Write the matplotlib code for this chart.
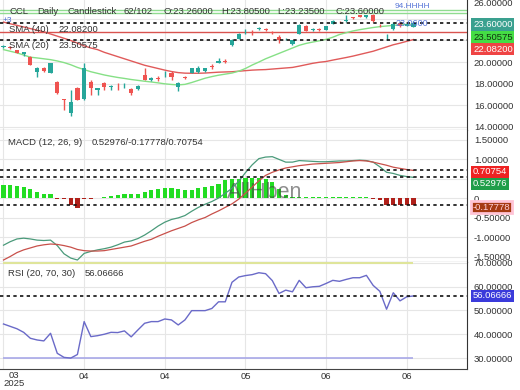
import matplotlib
matplotlib.use("Agg")
import matplotlib.pyplot as plt
import numpy as np

plt.rcParams['font.family'] = ['Liberation Sans', 'DejaVu Sans']

# --- data (62 visible daily bars) ---
opens = [21.40, 21.42, 21.10, 20.70, 20.49, 19.12, 19.42, 19.00, 18.19, 16.56,
         15.27, 17.57, 16.56, 18.19, 17.42, 18.10, 17.68, 17.70, 17.77, 17.48,
         17.48, 18.80, 18.38, 18.52, 18.78, 19.02, 17.67, 18.58, 19.02, 19.11,
         19.17, 19.62, 19.94, 20.06, 21.57, 22.18, 22.78, 22.82, 23.08, 23.10,
         22.75, 22.33, 22.09, 21.66, 22.64, 23.32, 23.00, 23.02, 23.01, 23.56,
         23.74, 23.83, 24.14, 24.33, 24.18, 24.33, 23.43, 22.30, 23.10, 23.60,
         23.35, 23.26]
highs = [21.55, 21.50, 21.15, 20.95, 20.55, 19.57, 19.50, 19.90, 18.25, 16.60,
         17.42, 17.65, 19.88, 18.34, 17.62, 18.19, 17.88, 18.03, 18.03, 17.57,
         17.85, 19.42, 18.65, 18.71, 19.20, 19.20, 18.19, 18.71, 19.45, 19.63,
         19.48, 19.82, 20.34, 20.25, 22.10, 22.70, 23.10, 23.01, 23.25, 23.15,
         22.85, 22.49, 22.25, 22.08, 23.56, 23.40, 23.12, 23.12, 23.38, 23.87,
         23.80, 24.33, 24.22, 24.40, 24.38, 24.42, 23.56, 22.64, 23.72, 23.65,
         23.65, 23.805]
lows = [21.30, 21.25, 20.80, 20.55, 19.70, 18.65, 19.10, 18.98, 17.05, 15.58,
        14.96, 16.45, 16.50, 16.96, 16.96, 17.42, 17.42, 17.42, 17.57, 16.96,
        17.42, 18.30, 18.28, 18.28, 18.59, 18.34, 17.27, 18.40, 19.00, 19.02,
        19.12, 19.32, 19.88, 19.88, 21.50, 22.10, 22.64, 22.49, 22.95, 22.90,
        22.60, 21.78, 22.05, 21.60, 22.60, 22.85, 22.90, 22.90, 22.95, 23.50,
        23.62, 23.72, 24.02, 24.15, 24.10, 23.72, 23.25, 22.03, 22.95, 23.25,
        23.30, 23.235]
closes = [21.45, 21.30, 20.85, 20.90, 19.72, 19.42, 19.15, 19.88, 17.11, 16.45,
          16.34, 16.50, 19.42, 17.57, 17.57, 17.67, 17.78, 17.65, 17.82, 17.11,
          17.79, 18.34, 18.49, 18.47, 18.84, 18.65, 18.10, 18.54, 19.42, 19.42,
          19.42, 19.52, 20.12, 20.01, 22.03, 22.64, 22.82, 22.78, 23.12, 22.95,
          22.72, 22.03, 22.18, 22.03, 23.41, 22.89, 23.03, 23.00, 23.32, 23.81,
          23.70, 23.88, 24.10, 24.18, 24.33, 23.81, 23.39, 22.36, 23.56, 23.30,
          23.55, 23.60]

sma20 = [21.15, 21.00, 20.85, 20.65, 20.45, 20.38, 20.30, 20.22, 20.10, 19.95,
         19.75, 19.50, 19.30, 19.10, 18.95, 18.80, 18.68, 18.57, 18.48, 18.38,
         18.30, 18.22, 18.15, 18.07, 17.98, 17.92, 17.88, 17.93, 18.10, 18.30,
         18.50, 18.65, 18.78, 18.88, 18.98, 19.15, 19.40, 19.72, 20.00, 20.30,
         20.55, 20.80, 21.05, 21.30, 21.55, 21.72, 21.85, 21.97, 22.10, 22.30,
         22.55, 22.72, 22.88, 23.00, 23.10, 23.20, 23.28, 23.34, 23.40, 23.45,
         23.48, 23.506]
sma40 = [23.70, 23.55, 23.40, 23.25, 23.10, 22.95, 22.80, 22.60, 22.40, 22.20,
         22.00, 21.75, 21.50, 21.30, 21.15, 20.90, 20.70, 20.50, 20.30, 20.10,
         19.90, 19.70, 19.55, 19.40, 19.25, 19.12, 19.02, 18.97, 18.96, 18.96,
         18.98, 19.02, 19.06, 19.08, 19.10, 19.15, 19.20, 19.25, 19.28, 19.30,
         19.35, 19.40, 19.45, 19.50, 19.62, 19.75, 19.88, 19.98, 20.05, 20.18,
         20.30, 20.42, 20.55, 20.70, 20.85, 21.00, 21.20, 21.40, 21.60, 21.75,
         21.92, 22.082]

macd = [-1.21, -1.12, -1.05, -1.03, -1.05, -1.08, -1.09, -1.08, -1.22, -1.43,
        -1.54, -1.59, -1.42, -1.37, -1.33, -1.30, -1.26, -1.20, -1.13, -1.10,
        -1.04, -0.95, -0.84, -0.72, -0.62, -0.55, -0.51, -0.45, -0.34, -0.24,
        -0.16, -0.09, 0.00, 0.12, 0.25, 0.43, 0.65, 0.85, 1.01, 1.05,
        1.06, 0.99, 0.92, 0.92, 0.96, 0.95, 0.94, 0.93, 0.93, 0.94,
        0.95, 0.95, 0.96, 0.97, 0.96, 0.92, 0.80, 0.66, 0.63, 0.58,
        0.55, 0.52976]
signal = [-1.59, -1.50, -1.40, -1.33, -1.28, -1.23, -1.20, -1.18, -1.19, -1.22,
          -1.26, -1.32, -1.35, -1.36, -1.36, -1.35, -1.32, -1.29, -1.26, -1.23,
          -1.17, -1.11, -1.06, -0.98, -0.91, -0.84, -0.78, -0.72, -0.63, -0.56,
          -0.50, -0.41, -0.33, -0.24, -0.15, -0.03, 0.12, 0.28, 0.44, 0.58,
          0.66, 0.72, 0.77, 0.80, 0.83, 0.85, 0.87, 0.88, 0.89, 0.90,
          0.91, 0.93, 0.95, 0.96, 0.95, 0.92, 0.88, 0.84, 0.79, 0.76,
          0.73, 0.70754]
hist = [0.33, 0.33, 0.31, 0.29, 0.22, 0.16, 0.10, 0.10, -0.02, -0.03,
        -0.18, -0.25, -0.03, -0.02, 0.00, 0.03, 0.06, 0.08, 0.09, 0.09,
        0.11, 0.16, 0.21, 0.23, 0.25, 0.25, 0.23, 0.21, 0.21, 0.26,
        0.28, 0.32, 0.35, 0.46, 0.50, 0.50, 0.52, 0.52, 0.52, 0.48,
        0.40, 0.22, 0.08, 0.03, 0.03, 0.03, 0.03, 0.03, 0.03, 0.03,
        0.03, 0.03, 0.03, 0.03, 0.03, -0.03, -0.04, -0.18, -0.18, -0.18,
        -0.18, -0.17778]

rsi = [44.3, 43.3, 42.3, 40.8, 38.3, 37.6, 37.2, 40.4, 32.0, 30.3,
       30.0, 31.5, 45.3, 39.0, 39.4, 40.0, 40.8, 40.7, 41.4, 38.9,
       41.8, 44.6, 45.3, 45.3, 46.4, 46.0, 43.9, 46.0, 49.9, 49.9,
       49.9, 50.8, 53.6, 53.6, 61.8, 64.0, 64.6, 65.0, 65.8, 65.4,
       62.5, 57.1, 58.5, 57.8, 62.6, 59.5, 59.9, 60.1, 61.3, 62.6,
       62.2, 63.0, 63.7, 63.7, 64.7, 60.5, 58.0, 50.5, 57.4, 54.0,
       55.7, 56.06666]

tick_pos = [0, 12, 24, 36, 48, 60]
tick_lab = ['', '04', '04', '05', '06', '06']

last_close = 23.60
last_sma20 = 23.50575
last_sma40 = 22.08200
level_red = 22.79
band_green = [24.50, 24.80]

idx = np.arange(len(closes))
o = np.array(opens)
c = np.array(closes)
up = c >= o

UP = '#26a69a'
DN = '#ef5350'
TXT = '#333333'

fig = plt.figure(figsize=(5.2, 3.9), dpi=100)
ax1 = fig.add_axes([0, 1 - 130 / 390, 467 / 520, 130 / 390])
ax2 = fig.add_axes([0, 1 - 262 / 390, 467 / 520, 132 / 390])
ax3 = fig.add_axes([0, 1 - 369 / 390, 467 / 520, 107 / 390])

for ax in (ax1, ax2, ax3):
    ax.set_xlim(-0.52, 68.97)
    ax.set_xticks(tick_pos)
    ax.grid(True, color='#e6e6e6', lw=0.8)
    ax.set_axisbelow(True)
    ax.yaxis.tick_right()
    ax.tick_params(axis='y', length=0, pad=5, labelsize=6.8, labelcolor=TXT)
    ax.tick_params(axis='x', length=0, labelsize=6.8, labelcolor=TXT, pad=2)
    for s in ('top', 'left'):
        ax.spines[s].set_visible(False)
    ax.spines['right'].set_color('#333333')
    ax.spines['bottom'].set_color('#444444')
    ax.set_facecolor('white')


def fmt(v, hidden=()):
    if v in hidden:
        return ''  # covered by the value tags in the original
    return '0' if v == 0 else '%.5f' % v


# --- price panel ---
ax1.set_ylim(13.70, 25.75)
pt = [14, 16, 18, 20, 22, 24]
ax1.set_yticks(pt)
ax1.set_yticklabels([fmt(v, hidden=(22, 24)) for v in pt])
ax1.set_xticklabels([])
for b in band_green:
    ax1.axhline(b, color='#8fdc8f', lw=1.0, zorder=1)
ax1.axhline(level_red, color='#d9534f', lw=1.0, zorder=1)
ax1.axhline(last_close, color='#111111', ls=(0, (2, 2)), lw=1.2, zorder=4)
ax1.axhline(last_sma40, color='#111111', ls=(0, (2, 2)), lw=1.2, zorder=4)
ax1.plot(idx, sma40, color='#e05a5a', lw=1.0, zorder=2)
ax1.plot(idx, sma20, color='#86e086', lw=1.0, zorder=2)
ax1.vlines(idx, lows, highs, color=np.where(up, UP, DN), lw=1.0, zorder=3)
body = np.maximum(np.abs(c - o), 0.04)
ax1.bar(idx, body, bottom=np.minimum(o, c), width=0.62,
        color=np.where(up, UP, DN), zorder=3)

# --- MACD panel ---
ax2.set_ylim(-1.641, 1.744)
mt = [-1.5, -1.0, -0.5, 0, 0.5, 1.0, 1.5]
ax2.set_yticks(mt)
ax2.set_yticklabels([fmt(v, hidden=(0.5,)) for v in mt])
ax2.set_xticklabels([])
h = np.array(hist)
ax2.bar(idx, h, width=0.62, color=np.where(h >= 0, '#22dd22', '#b0201a'), zorder=2)
ax2.text(0.567, 0.53, 'AllHben', transform=ax2.transAxes, fontsize=15.5,
         color='#444444', alpha=0.6, ha='center', va='center', zorder=2.5)
for v in (signal[-1], macd[-1], hist[-1]):
    ax2.axhline(v, color='#111111', ls=(0, (2, 2)), lw=1.2, zorder=4)
ax2.plot(idx, macd, color='#4a9a7a', lw=0.9, zorder=3)
ax2.plot(idx, signal, color='#c8504a', lw=0.9, zorder=3)

# --- RSI panel ---
ax3.set_ylim(25.42, 70.3)
rt = [30, 40, 50, 60, 70]
ax3.set_yticks(rt)
ax3.set_yticklabels([fmt(v) for v in rt])
ax3.set_xticklabels(tick_lab)
ax3.hlines(70, idx[0], idx[-1], color='#dfe59a', lw=1.5, zorder=2)
ax3.hlines(30, idx[0], idx[-1], color='#a8a8e8', lw=1.2, zorder=2)
ax3.axhline(rsi[-1], color='#111111', ls=(0, (2, 2)), lw=1.2, zorder=4)
ax3.plot(idx, rsi, color='#6a6ac8', lw=1.0, zorder=3)


def put(x, y, s, **kw):
    kw.setdefault('fontsize', 6.8)
    kw.setdefault('color', TXT)
    kw.setdefault('va', 'center')
    fig.text(x / 520, 1 - y / 390, s, **kw)


# header texts
for x, s in [(9, 'CCL'), (37, 'Daily'), (67, 'Candlestick'), (124, '62/102'),
             (163, 'O:23.26000'), (221, 'H:23.80500'), (277, 'L:23.23500'),
             (335, 'C:23.60000')]:
    put(x, 12, s)
put(9, 30, 'SMA (40)')
put(58, 30, '22.08200')
put(9, 46, 'SMA (20)')
put(58, 46, '23.50575')
put(8, 142, 'MACD (12, 26, 9)')
put(92, 142, '0.52976/-0.17778/0.70754')
put(8, 274, 'RSI (20, 70, 30)')
put(85, 274, '56.06666')
put(3, 20, '+3', color='#4a6ad0', fontsize=6)
put(395, 6, '94.HHHH', color='#5a78d8', fontsize=6)
put(396, 24, '23.0600', color='#5a78d8', fontsize=6.5)

# x labels under first tick
put(14, 375, '03', ha='center')
put(14, 384, '2025', ha='center')
put(473, 4, '26.00000')


def tag(y, s, fc, tc, ec=None, lw=0):
    fig.text(473 / 520, 1 - y / 390, s, fontsize=6.8, color=tc, va='center',
             bbox=dict(boxstyle='square,pad=0.18', fc=fc, ec=ec or fc, lw=lw),
             zorder=5)


tag(24.5, '23.60000', '#3aa08f', 'white')
tag(37, '23.50575', '#44dd44', '#113311')
tag(49, '22.08200', '#ef4444', 'white')
tag(172, '0.70754', '#ee2222', 'white')
tag(184, '0.52976', '#1f9e4a', 'white')
tag(207, '-0.17778', '#a63a12', '#ffd0d8', ec='#ffc4d6', lw=2)
tag(296, '56.06666', '#3b3bdb', 'white')

fig.savefig('out.png', dpi=100)
